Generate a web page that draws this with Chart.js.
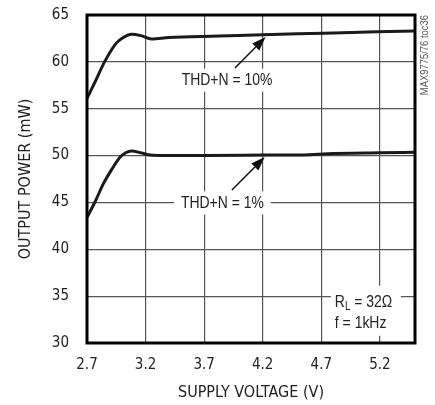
<!DOCTYPE html>
<html><head><meta charset="utf-8">
<script src="https://cdn.jsdelivr.net/npm/chart.js@4.4.1/dist/chart.umd.min.js"></script>
<style>html,body{margin:0;padding:0;background:#fff}#wrap{width:435px;height:405px}</style>
</head><body><div id="wrap"><canvas id="c" width="435" height="405"></canvas></div>
<script>
// ---- data ----
const voltage10 = [2.70, 2.77, 2.85, 2.95, 3.01, 3.08, 3.16, 3.25, 3.40, 3.83, 4.20, 4.72, 5.17, 5.50];
const power10   = [56.1, 57.9, 60.0, 62.0, 62.6, 62.95, 62.8, 62.45, 62.6, 62.75, 62.9, 63.05, 63.2, 63.3];
const voltage1  = [2.70, 2.77, 2.84, 2.91, 2.98, 3.03, 3.08, 3.16, 3.24, 3.35, 3.70, 4.20, 4.60, 4.75, 5.20, 5.50];
const power1    = [43.4, 45.1, 47.0, 48.5, 49.8, 50.3, 50.5, 50.3, 50.05, 50.0, 50.0, 50.05, 50.1, 50.2, 50.3, 50.35];
const xTicks = [2.7, 3.2, 3.7, 4.2, 4.7, 5.2];
const yTicks = [30, 35, 40, 45, 50, 55, 60, 65];
const seriesNames = ['THD+N = 10%', 'THD+N = 1%'];
const xTitle = 'SUPPLY VOLTAGE (V)';
const yTitle = 'OUTPUT POWER (mW)';
const sideNote = 'MAX9775/76 toc36';

const FONT = '"DejaVu Sans Condensed","Liberation Sans Narrow",sans-serif';
const NARROW = '"Liberation Sans",Arial,sans-serif';
const SQUEEZE = 0.82;

// annotation layout (data coordinates)
const annot = {
  labels: [
    {text: seriesNames[0], x: 3.895, y: 58.1, from: [3.963, 59.35], to: [4.225, 62.65]},
    {text: seriesNames[1], x: 3.856, y: 45.0, from: [3.937, 46.33], to: [4.217, 49.85]}
  ],
  cond: {x: 4.816, y1: 34.4, y2: 32.17}
};

const toPts = (xs, ys) => xs.map((v, i) => ({x: v, y: ys[i]}));

function narrowText(ctx, text, x, y, size, align) {
  ctx.save();
  ctx.font = size + 'px ' + NARROW;
  ctx.translate(x, y);
  ctx.scale(SQUEEZE, 1);
  ctx.textAlign = align;
  ctx.textBaseline = 'middle';
  ctx.fillText(text, 0, 0);
  const w = ctx.measureText(text).width * SQUEEZE;
  ctx.restore();
  return w;
}
function narrowWidth(ctx, text, size) {
  ctx.save();
  ctx.font = size + 'px ' + NARROW;
  const w = ctx.measureText(text).width * SQUEEZE;
  ctx.restore();
  return w;
}

const annotPlugin = {
  id: 'annot',
  afterDatasetsDraw(chart) {
    const {ctx, chartArea: ca, scales: {x, y}} = chart;
    ctx.save();
    annot.labels.forEach(l => {
      const px = x.getPixelForValue(l.x), py = y.getPixelForValue(l.y);
      const w = narrowWidth(ctx, l.text, 17);
      ctx.fillStyle = '#fff';
      ctx.fillRect(px - w / 2 - 7, py - 11, w + 14, 23);
      ctx.fillStyle = '#222';
      narrowText(ctx, l.text, px, py + 1, 17, 'center');
      // arrow
      const x0 = x.getPixelForValue(l.from[0]), y0 = y.getPixelForValue(l.from[1]);
      const x1 = x.getPixelForValue(l.to[0]), y1 = y.getPixelForValue(l.to[1]);
      const ang = Math.atan2(y1 - y0, x1 - x0);
      const hl = 14, hw = 5;
      const bx = x1 - hl * Math.cos(ang), by = y1 - hl * Math.sin(ang);
      ctx.strokeStyle = '#111'; ctx.lineWidth = 1.5;
      ctx.beginPath(); ctx.moveTo(x0, y0); ctx.lineTo(bx, by); ctx.stroke();
      ctx.fillStyle = '#111';
      ctx.beginPath();
      ctx.moveTo(x1, y1);
      ctx.lineTo(bx + hw * Math.sin(ang), by - hw * Math.cos(ang));
      ctx.lineTo(bx - hw * Math.sin(ang), by + hw * Math.cos(ang));
      ctx.closePath(); ctx.fill();
    });
    // conditions box
    const cx = x.getPixelForValue(annot.cond.x);
    const cy1 = y.getPixelForValue(annot.cond.y1), cy2 = y.getPixelForValue(annot.cond.y2);
    ctx.fillStyle = '#fff';
    ctx.fillRect(cx - 4, cy1 - 16, 70, 50);
    ctx.fillStyle = '#222';
    const rw = narrowText(ctx, 'R', cx, cy1 + 1, 17, 'left');
    const lw = narrowText(ctx, 'L', cx + rw, cy1 + 5, 12, 'left');
    narrowText(ctx, ' = 32\u03A9', cx + rw + lw, cy1 + 1, 17, 'left');
    narrowText(ctx, 'f = 1kHz', cx, cy2 + 1, 17, 'left');
    // frame
    ctx.strokeStyle = '#000'; ctx.lineWidth = 3;
    ctx.strokeRect(ca.left, ca.top, ca.right - ca.left, ca.bottom - ca.top);
    // side note
    ctx.save();
    ctx.translate(ca.right + 10, ca.top);
    ctx.rotate(-Math.PI / 2);
    ctx.fillStyle = '#555';
    narrowText(ctx, sideNote, 0, 0, 11.5, 'right');
    ctx.restore();
    ctx.restore();
  }
};

new Chart(document.getElementById('c'), {
  type: 'line',
  data: {
    datasets: [
      {label: seriesNames[0], data: toPts(voltage10, power10)},
      {label: seriesNames[1], data: toPts(voltage1, power1)}
    ]
  },
  options: {
    responsive: false,
    animation: false,
    devicePixelRatio: 1,
    layout: {padding: {top: 15, right: 20, left: 0, bottom: 0}},
    elements: {
      line: {borderColor: '#1a1a1a', borderWidth: 3, cubicInterpolationMode: 'monotone', fill: false},
      point: {radius: 0}
    },
    plugins: {legend: {display: false}, tooltip: {enabled: false}},
    scales: {
      x: {
        type: 'linear', min: 2.7, max: 5.5,
        afterBuildTicks: s => { s.ticks = xTicks.map(v => ({value: v})); },
        afterFit: s => { s.height = 62; },
        grid: {color: '#555', lineWidth: 1.2, drawTicks: true, tickLength: 13, tickColor: 'rgba(0,0,0,0)'},
        border: {display: false},
        ticks: {color: '#222', font: {family: FONT, size: 15}, padding: 0, maxRotation: 0,
                callback: v => v.toFixed(1)},
        title: {display: true, text: xTitle, color: '#222', font: {family: FONT, size: 16}, padding: {top: 0, bottom: 3}}
      },
      y: {
        min: 30, max: 65,
        afterBuildTicks: s => { s.ticks = yTicks.map(v => ({value: v})); },
        afterFit: s => { s.width = 87; },
        grid: {color: '#555', lineWidth: 1.2, drawTicks: true, tickLength: 18, tickColor: 'rgba(0,0,0,0)'},
        border: {display: false},
        ticks: {color: '#222', font: {family: FONT, size: 15}, padding: 0},
        title: {display: true, text: yTitle, color: '#222', font: {family: FONT, size: 16}, padding: {top: 16, bottom: 0}}
      }
    }
  },
  plugins: [annotPlugin]
});
</script></body></html>
